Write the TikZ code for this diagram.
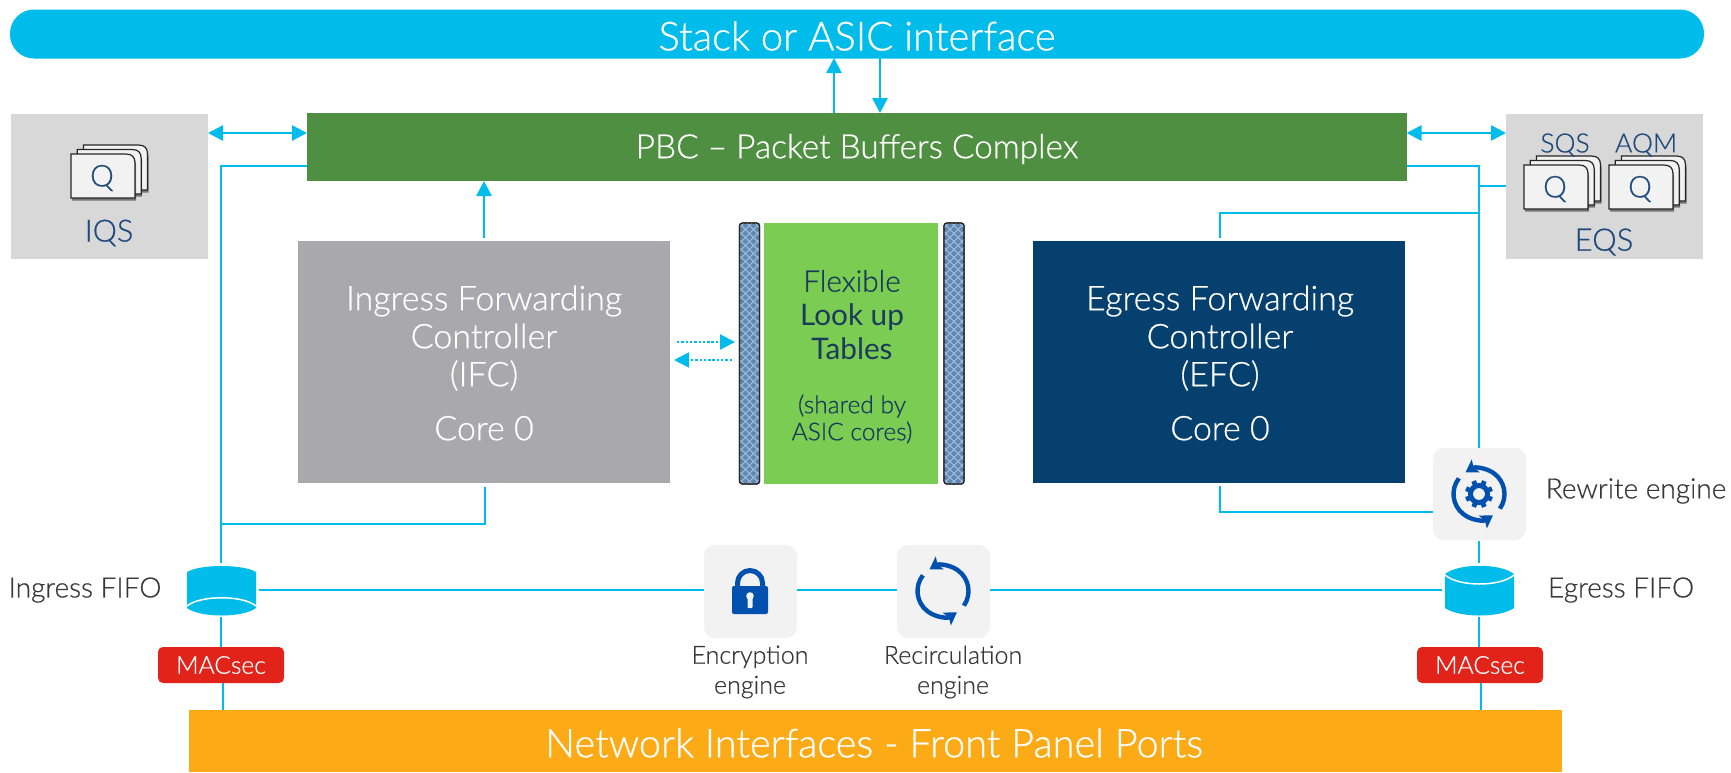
\documentclass[tikz,border=0pt]{standalone}
\usepackage{fontspec}
\setmainfont{Lato}[UprightFont={* Light},UprightFeatures={FakeBold=0.6},BoldFont={*}]
\usetikzlibrary{arrows.meta,shadows}
\definecolor{lnk}{HTML}{00BCEB}
\definecolor{navy}{HTML}{1F4A7C}
\definecolor{icon}{HTML}{0051AF}
\definecolor{tile}{HTML}{F2F2F2}
\definecolor{panel}{HTML}{D8D8D8}
\definecolor{ink}{HTML}{39393B}
\definecolor{deepink}{HTML}{1B3A5C}
\definecolor{pbcgreen}{HTML}{4F8F41}
\definecolor{ifcgrey}{HTML}{A8A8AD}
\definecolor{efcblue}{HTML}{05406F}
\definecolor{lutgreen}{HTML}{7ACC52}
\definecolor{portorange}{HTML}{FCAB17}
\definecolor{macred}{HTML}{E2231A}
\definecolor{barblue}{HTML}{5F88B5}
\definecolor{barlight}{HTML}{A9C2DA}
\tikzset{
 x=1pt,y=-1pt,
 wire/.style={draw=lnk,line width=2.6pt},
 tipone/.style={-{Triangle[length=15pt,width=15pt]}},
 tiptwo/.style={{Triangle[length=15pt,width=15pt]}-{Triangle[length=15pt,width=15pt]}},
 dotwire/.style={draw=lnk,line width=2.2pt,dash pattern=on 2.4pt off 1.9pt,-{Triangle[length=15pt,width=15pt,sep=0pt]}},
 block/.style={inner sep=0pt,outer sep=0pt,align=center,text=white},
 panelbox/.style={fill=panel,inner sep=0pt,outer sep=0pt},
 tilebox/.style={fill=tile,rounded corners=11pt,inner sep=0pt,outer sep=0pt,minimum width=93pt,minimum height=93pt},
 macbox/.style={block,fill=macred,rounded corners=5pt,minimum width=126pt,minimum height=36pt,font=\fontsize{24.6}{28}\selectfont},
 card/.style={fill=tile,draw=black!85,line width=1.2pt,drop shadow={shadow xshift=1pt,shadow yshift=-2.5pt,opacity=.45,fill=black}},
 sidelab/.style={text=ink,font=\fontsize{28}{32}\selectfont,align=center,inner sep=0pt},
 lab/.style={text=ink,font=\fontsize{25}{30}\selectfont,align=center,inner sep=0pt},
 qlab/.style={text=navy,inner sep=0pt},
 iconline/.style={draw=icon,line width=4.4pt},
 barbox/.style={draw=black!85,line width=1.3pt,rounded corners=3pt,inner sep=0pt,outer sep=0pt,minimum width=20pt,minimum height=261pt},
 fifofill/.style={fill=lnk},
}
\newcommand{\qcard}[4]{%
  \path[card] (#1,#2+#4) -- (#1,#2) -- (#1+#3-9,#2) .. controls (#1+#3-3,#2) and (#1+#3,#2+3) .. (#1+#3,#2+9) -- (#1+#3,#2+#4) -- cycle;}
\newcommand{\qstack}[3]{% x y width of front card
  \qcard{#1+12.5}{#2-9}{#3}{45}\qcard{#1+6.2}{#2-4.5}{#3}{44.5}\qcard{#1}{#2}{#3}{44}}
\newcommand{\spinner}[2]{%
  \draw[iconline,-{Stealth[length=12pt,width=15pt,inset=2.5pt]}] ([shift={(-35:#2)}]#1) arc[start angle=-35,end angle=122,radius=#2];
  \draw[iconline,-{Stealth[length=12pt,width=15pt,inset=2.5pt]}] ([shift={(142:#2)}]#1) arc[start angle=142,end angle=303,radius=#2];}
\newcommand{\hatch}[1]{%
  \begin{scope}
  \clip (#1.south west) rectangle (#1.north east);
  \foreach \k in {-40,...,40}{
    \draw[barlight,line width=.8pt] ([shift={(-40pt,\k*8pt-40pt)}]#1.center) -- ([shift={(40pt,\k*8pt+40pt)}]#1.center);
    \draw[barlight,line width=.8pt] ([shift={(-40pt,\k*8pt+40pt)}]#1.center) -- ([shift={(40pt,\k*8pt-40pt)}]#1.center);
  }
  \end{scope}}
\begin{document}
\begin{tikzpicture}
\useasboundingbox (0,0) rectangle (1731,772);
% main blocks
\node[block,fill=lnk,rounded corners=24pt,minimum width=1694pt,minimum height=49pt] (stack) at (857,34) {};
\node[block,font=\fontsize{40}{46}\selectfont] (stacktext) at (857,36) {Stack or ASIC interface};
\node[panelbox,minimum width=197pt,minimum height=145pt] (iqs) at (109.5,186.5) {};
\node[panelbox,minimum width=197pt,minimum height=145pt] (eqs) at (1604.5,186.5) {};
\node[block,fill=pbcgreen,minimum width=1099.5pt,minimum height=68pt] (pbc) at (856.75,147) {};
\node[block,font=\fontsize{33.4}{38}\selectfont] (pbctext) at (857,149) {PBC – Packet Buffers Complex};
\node[block,fill=ifcgrey,minimum width=372pt,minimum height=242pt] (ifc) at (484,362) {};
\node[block,fill=efcblue,minimum width=372pt,minimum height=242pt] (efc) at (1219,362) {};
\node[block,font=\fontsize{34}{38}\selectfont] (ifctext) at (484,363) {Ingress Forwarding\\Controller\\(IFC)\\[16pt]Core 0};
\node[block,font=\fontsize{34}{38}\selectfont] (efctext) at (1220,363) {Egress Forwarding\\Controller\\(EFC)\\[16pt]Core 0};
\node[block,fill=lutgreen,minimum width=174pt,minimum height=261pt] (lut) at (851,353.5) {};
\node[block,text=deepink,font=\fontsize{29.7}{34}\selectfont] (luttext) at (852,315) {Flexible\\\textbf{Look up}\\\textbf{Tables}};
\node[block,text=deepink,font=\fontsize{24.5}{27}\selectfont] (lutnote) at (852,419) {(shared by\\ASIC cores)};
\node[barbox,fill=barblue] (barl) at (749.5,353.5) {};
\node[barbox,fill=barblue] (barr) at (954,353.5) {};
\hatch{barl}\hatch{barr}
\node[barbox] (barlo) at (749.5,353.5) {};
\node[barbox] (barro) at (954,353.5) {};
\node[block,fill=portorange,minimum width=1373pt,minimum height=62pt] (ports) at (875.5,741) {};
\node[block,font=\fontsize{39.7}{44}\selectfont] (portstext) at (874,743) {Network Interfaces - Front Panel Ports};
% tiles
\node[tilebox,minimum height=92pt] (rewrite) at (1479.5,494) {};
\node[tilebox] (encrypt) at (750.5,591.5) {};
\node[tilebox] (recirc) at (943.5,591.5) {};
% macsec
\node[macbox] (macl) at (221,665) {MACsec};
\node[macbox] (macr) at (1480,665) {MACsec};
% fifo bodies
\coordinate (fifol) at (221.5,590);
\coordinate (fifor) at (1479.5,590);
\path[fifofill] (187,572) .. controls (200,564) and (243,564) .. (256,572) -- (256,608) .. controls (243,618) and (200,618) .. (187,608) -- cycle;
\draw[white,line width=1.5pt] (187,606) .. controls (200,595) and (243,595) .. (256,606);
\path[fifofill] (1445,574) .. controls (1459,563) and (1500,563) .. (1514,574) -- (1514,608) .. controls (1500,618) and (1459,618) .. (1445,608) -- cycle;
\draw[white,line width=1.5pt] (1445,575) .. controls (1459,587) and (1500,587) .. (1514,575);
% connectors
\draw[wire,tiptwo] (iqs.east |- 0,133) -- (pbc.west |- 0,133);
\draw[wire,tiptwo] (pbc.east |- 0,133) -- (eqs.west |- 0,133);
\draw[wire,tipone] (834,113) -- (834,58);
\draw[wire,tipone] (880,58) -- (880,113);
\draw[wire,tipone] (484,238) -- (484,181);
\draw[wire] (pbc.west |- 0,166) -| (221,563);
\draw[wire] (221,524) -| (485,487);
\draw[wire] (pbc.east |- 0,166) -| (1479,448);
\draw[wire] (1479,186) -- (eqs.west |- 0,186);
\draw[wire] (1220,238) |- (1479,213);
\draw[wire] (1220,486) |- (rewrite.west |- 0,512);
\draw[wire] (1479,541) -- (1479,563);
\draw[wire] (1479,617) -- (1479,647);
\draw[wire] (1481,683) -- (1481,710);
\draw[wire] (221,617) -- (221,647);
\draw[wire] (223,683) -- (223,710);
\draw[wire] (259,590) -- (encrypt.west |- fifol);
\draw[wire] (encrypt.east |- fifol) -- (recirc.west |- fifol);
\draw[wire] (recirc.east |- fifol) -- (1442,590);
\draw[dotwire] (677,342) -- (735,342);
\draw[dotwire] (732,360) -- (674,360);
% queue cards
\qstack{71}{154}{64}
\node[qlab,font=\fontsize{30}{34}\selectfont] (q0) at (102,178) {Q};
\qstack{1524}{165}{64}
\qstack{1609}{165}{64}
\node[qlab,font=\fontsize{30}{34}\selectfont] (q1) at (1555,189) {Q};
\node[qlab,font=\fontsize{30}{34}\selectfont] (q2) at (1640,189) {Q};
\node[qlab,font=\fontsize{30.6}{34}\selectfont] (iqsl) at (109,233) {IQS};
\node[qlab,font=\fontsize{31}{34}\selectfont] (eqsl) at (1604,242) {EQS};
\node[qlab,font=\fontsize{26.5}{30}\selectfont] (sqsl) at (1565,145) {SQS};
\node[qlab,font=\fontsize{26.5}{30}\selectfont] (aqml) at (1646,145) {AQM};
% labels
\node[sidelab] (ingl) at (85,590) {Ingress FIFO};
\node[sidelab] (egrl) at (1621,590) {Egress FIFO};
\node[sidelab] (rewl) at (1636,491) {Rewrite engine};
\node[lab] (encl) at (750,672) {Encryption\\engine};
\node[lab] (recl) at (953,672) {Recirculation\\engine};
% lock icon
\draw[draw=icon,line width=5pt] (737.5,590) -- (737.5,583) arc[start angle=180,end angle=0,radius=12.5pt] -- (762.5,590);
\fill[icon,rounded corners=2pt] (732,586) rectangle (768,614);
\fill[tile] (750,596) circle[radius=3.8pt];
\fill[tile,rounded corners=1pt] (747.5,597) rectangle (752.5,608);
% spinners
\coordinate (spina) at (943,591);
\spinner{spina}{25.5pt}
\coordinate (spinb) at (1479,494);
\spinner{spinb}{25.5pt}
% gear
\foreach \a in {0,45,...,315}{
  \draw[icon,line width=4.8pt] ([shift={(\a+22.5:7pt)}]spinb) -- ([shift={(\a+22.5:14pt)}]spinb);
}
\draw[icon,line width=5pt] (spinb) circle[radius=8.5pt];
\fill[tile] (spinb) circle[radius=5.6pt];
\end{tikzpicture}
\end{document}
